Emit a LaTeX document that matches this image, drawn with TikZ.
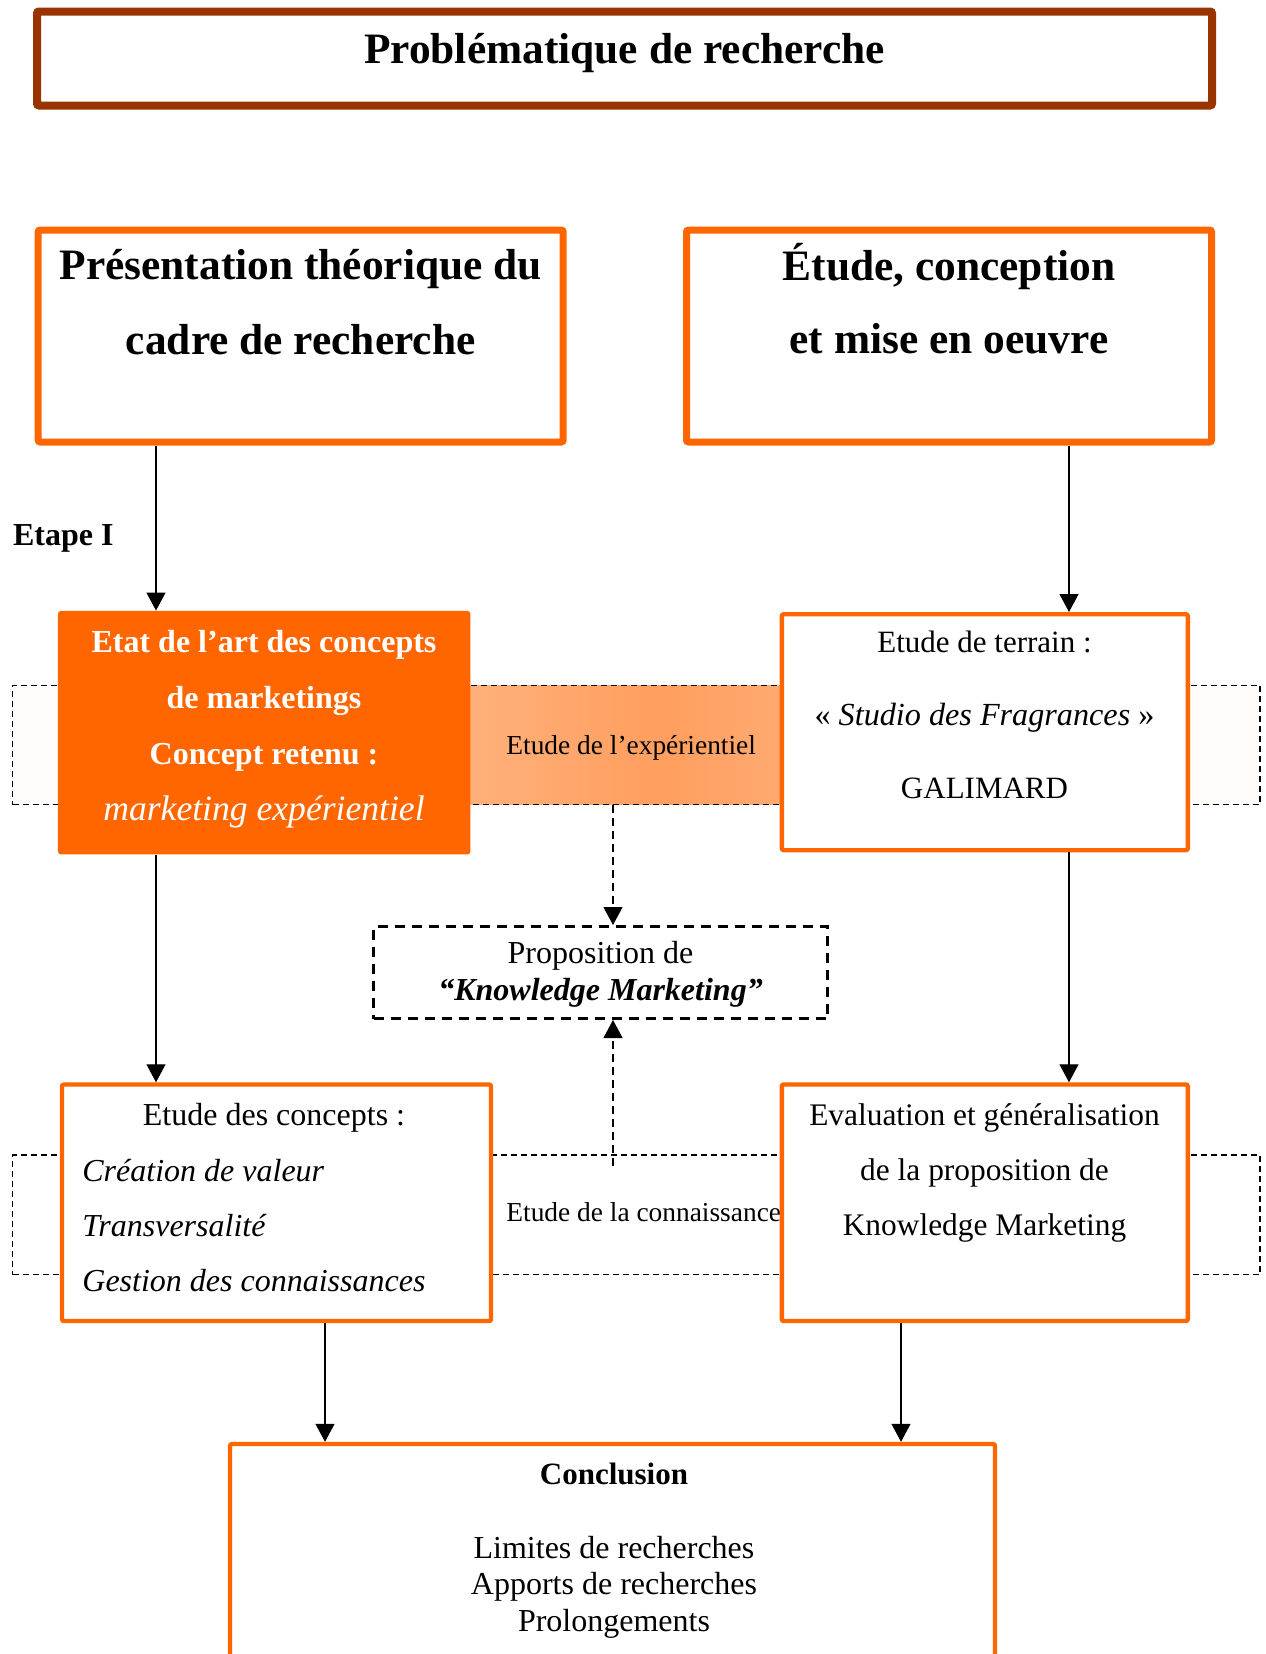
\documentclass[tikz,border=0pt]{standalone}
\usepackage{fontspec}
\setmainfont{Liberation Serif}
\usepackage{tikz}
\usetikzlibrary{arrows.meta}
\definecolor{orangevif}{HTML}{FF6600}
\definecolor{brique}{HTML}{993300}
\tikzset{boite/.style={draw=orangevif, line width=2.2pt, fill=white, inner sep=0pt, rounded corners=1pt}}
\tikzset{grandeboite/.style={boite, line width=3.5pt, minimum width=262.5pt, minimum height=106pt}}
\tikzset{texte/.style={inner sep=0pt, align=center}}
\tikzset{bande/.style={draw, dash pattern=on 3pt off 2pt, line width=0.7pt, inner sep=0pt, minimum width=623.65pt, minimum height=59.75pt}}
\tikzset{fleche/.style={-{Triangle[length=9pt,width=9.5pt]}, line width=0.6pt}}
\tikzset{flechetiret/.style={fleche, dash pattern=on 4pt off 2.5pt}}

\begin{document}
\begin{tikzpicture}[x=0.5pt, y=-0.5pt]
\useasboundingbox (0,0) rectangle (1265,1654);
\coordinate (xg) at (156,0);
\coordinate (xd) at (1069,0);
\coordinate (xm) at (613,0);
\coordinate (xcg) at (325,0);
\coordinate (xcd) at (901,0);
\coordinate (depart) at (613,1166);
%
\foreach \i in {0,...,103} {
  \pgfmathsetmacro\xx{12.7+\i*12+6}
  \pgfmathsetmacro\pct{(\xx>440 && \xx<800) ? 63-0.058*abs(\xx-660) : 2}
  \fill[orangevif!\pct] ({12.7+\i*12},685) rectangle ++(12.6,120);
}
\node[bande] (experientiel) at (636.35,745) {};
\node[bande] (connaissance) at (636.35,1214.75) {};
\node[texte, anchor=west, font=\fontsize{13.7}{16}\selectfont] (experientieltexte) at (506,748) {Etude de l’expérientiel};
\node[texte, anchor=west, font=\fontsize{13.7}{16}\selectfont] (connaissancetexte) at (506,1212) {Etude de la connaissance};
%
\node[boite, draw=brique, line width=4pt, minimum width=587.5pt, minimum height=47pt] (titre) at (624.5,58.5) {};
\node[texte, font=\fontsize{21.7}{26}\selectfont\bfseries] (titretexte) at (624.5,53) {Problématique de recherche};
\node[grandeboite] (presentation) at (300.7,336) {};
\node[texte, font=\fontsize{21.7}{37.5}\selectfont\bfseries] (presentationtexte) at (300.7,302) {Présentation théorique du\\cadre de recherche};
\node[grandeboite] (etude) at (949,336) {};
\node[texte, font=\fontsize{21.7}{36.5}\selectfont\bfseries] (etudetexte) at (949,299) {Étude, conception\\et mise en oeuvre};
\node[texte, anchor=west, font=\fontsize{16}{18}\selectfont\bfseries] (etape) at (12.7,538) {Etape I};
%
\node[fill=orangevif, rounded corners=1.5pt, inner sep=0pt, minimum width=206.25pt, minimum height=121.75pt] (etat) at (264.2,732.7) {};
\node[texte, text=white, font=\fontsize{16}{28}\selectfont\bfseries] (etattexte) at (264,729) {Etat de l’art des concepts\\de marketings\\Concept retenu :\\{\mdseries\itshape\fontsize{17.8}{28}\selectfont marketing expérientiel}};
\node[boite, minimum width=203pt, minimum height=118pt] (terrain) at (984.8,732.2) {};
\node[texte, font=\fontsize{15.5}{36.5}\selectfont] (terraintexte) at (984.5,715) {Etude de terrain :\\{\fontsize{16.1}{36.5}\selectfont«~\textit{Studio des Fragrances}~»}\\GALIMARD};
%
\node[draw, fill=white, dash pattern=on 5pt off 3.5pt, line width=1.5pt, minimum width=227pt, minimum height=46pt] (proposition) at (600.5,972.5) {};
\node[texte, font=\fontsize{16}{18.5}\selectfont] (propositiontexte) at (600.5,974) {Proposition de\\\textbf{\textit{“Knowledge Marketing”}}};
%
\node[boite, minimum width=214.5pt, minimum height=118.25pt] (concepts) at (276.5,1202.75) {};
\node[texte, font=\fontsize{16}{27.5}\selectfont] (conceptstitre) at (274,1118) {Etude des concepts :};
\node[texte, align=left, anchor=west, font=\fontsize{16}{27.5}\selectfont\itshape] (conceptsliste) at (82,1226) {Création de valeur\\Transversalité\\Gestion des connaissances};
\node[boite, minimum width=203pt, minimum height=118.25pt] (evaluation) at (984.8,1202.75) {};
\node[texte, font=\fontsize{15.7}{27.5}\selectfont] (evaluationtexte) at (984.5,1173) {Evaluation et généralisation\\de la proposition de\\Knowledge Marketing};
%
\node[boite, minimum width=382.5pt, minimum height=138pt] (conclusion) at (612.5,1582) {};
\node[texte, font=\fontsize{15.5}{18}\selectfont\bfseries] (conclusiontitre) at (614,1474) {Conclusion};
\node[texte, font=\fontsize{16}{18.25}\selectfont] (conclusionliste) at (614,1587) {Limites de recherches\\Apports de recherches\\Prolongements};
%
\draw[fleche] (presentation.south -| xg) -- (etat.north -| xg);
\draw[fleche] (etude.south -| xd) -- (terrain.north -| xd);
\draw[fleche] (etat.south -| xg) -- (concepts.north -| xg);
\draw[fleche] (terrain.south -| xd) -- (evaluation.north -| xd);
\draw[fleche] (concepts.south -| xcg) -- (conclusion.north -| xcg);
\draw[fleche] (evaluation.south -| xcd) -- (conclusion.north -| xcd);
\draw[flechetiret] (experientiel.south -| xm) -- (proposition.north -| xm);
\draw[flechetiret] (depart) -- (proposition.south -| xm);
\end{tikzpicture}
\end{document}
